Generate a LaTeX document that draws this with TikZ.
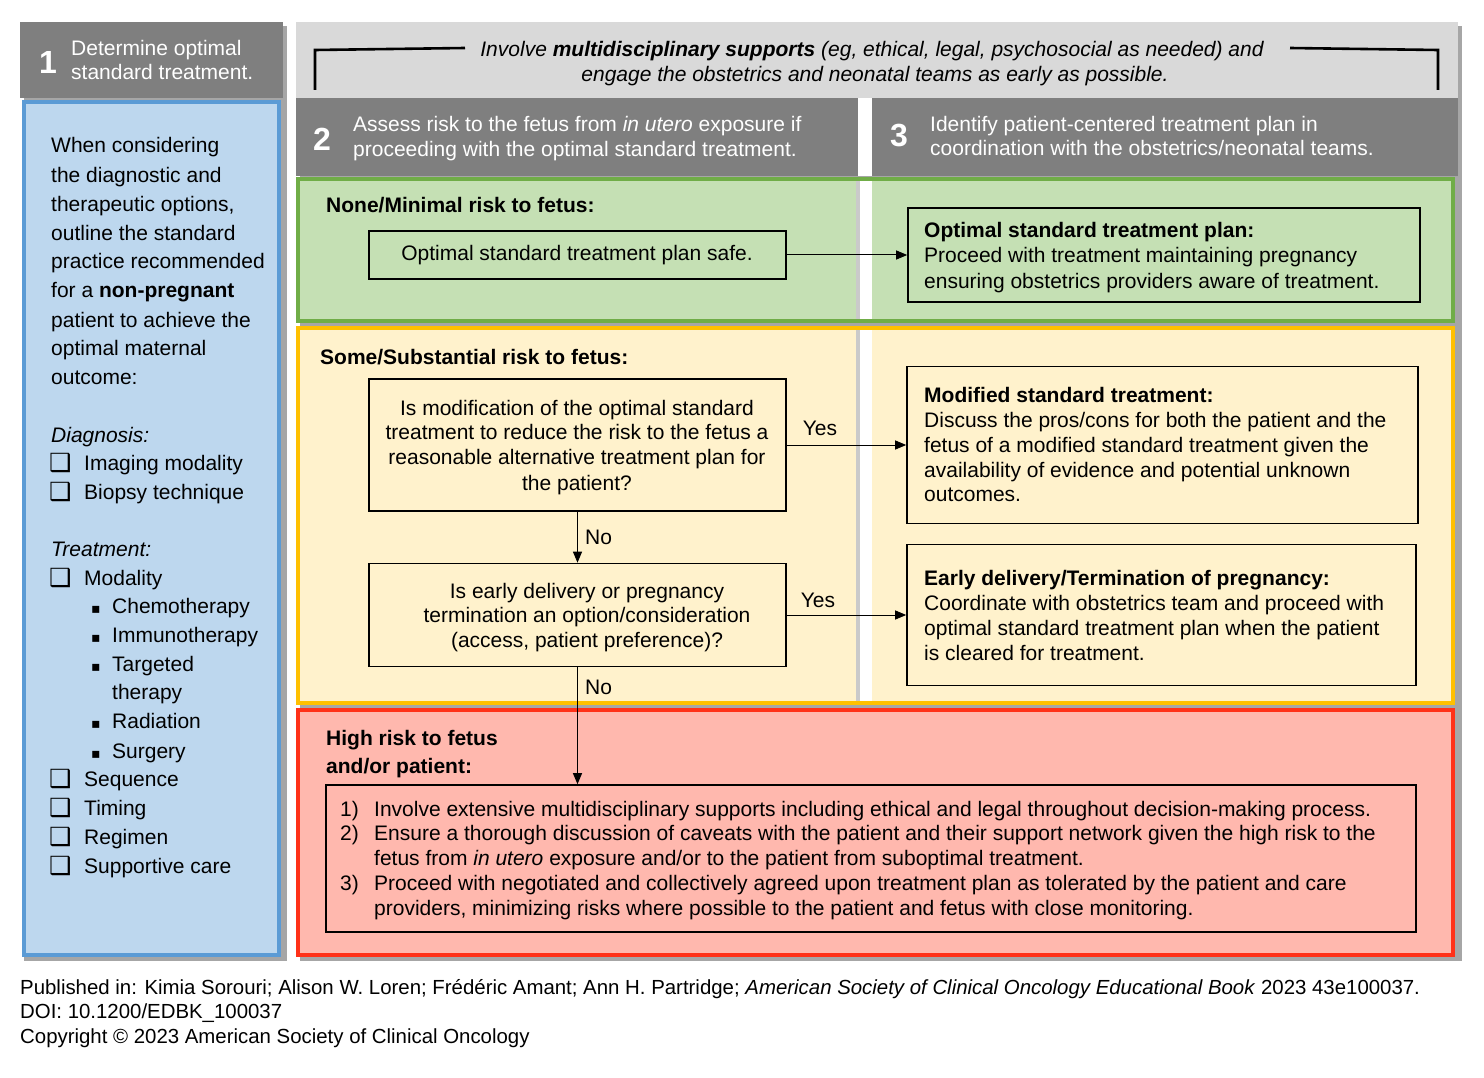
\documentclass[tikz,border=0pt]{standalone}
\usepackage{fontspec}
\setmainfont{Liberation Sans}
\newfontfamily\dejavu{DejaVu Sans}
\usetikzlibrary{arrows.meta}
\definecolor{hdrgray}{HTML}{7F7F7F}
\definecolor{topgray}{HTML}{D9D9D9}
\definecolor{bluefill}{HTML}{BDD7EE}
\definecolor{blueline}{HTML}{5B9BD5}
\definecolor{greenfill}{HTML}{C5E0B4}
\definecolor{greenline}{HTML}{70AD47}
\definecolor{yellowfill}{HTML}{FFF2CC}
\definecolor{yellowline}{HTML}{FFC000}
\definecolor{redfill}{HTML}{FFB8AE}
\definecolor{redline}{HTML}{FF3118}
\definecolor{shadowgray}{HTML}{A6A6A6}
\newcounter{tcnt}
\newcommand\txtL[3]{\stepcounter{tcnt}\node[anchor=base west,inner sep=0pt] (t\arabic{tcnt}) at (#1,#2) {#3};}
\newcommand\txtC[3]{\stepcounter{tcnt}\node[anchor=base,inner sep=0pt] (t\arabic{tcnt}) at (#1,#2) {#3};}
\newcommand\chk[3]{\stepcounter{tcnt}\node[anchor=base west,inner sep=0pt,font=\dejavu\fontsize{25}{25}\selectfont] (t\arabic{tcnt}) at (49,#2+1) {❑};\txtL{#3}{#2}{#1}}
\newcommand\bul[1]{\txtL{91}{#1}{\dejavu\fontsize{14}{14}\selectfont ▪}}
\begin{document}
\begin{tikzpicture}[x=1pt,y=-1pt,
  font=\fontsize{21}{25}\selectfont,
  boxnode/.style={draw=black,line width=1.6pt,rectangle,inner sep=0pt},
  arr/.style={-{Triangle[length=11pt,width=9pt]},line width=1pt},
  band/.style={line width=4.5pt},
  shad/.style={fill=shadowgray},
  lefttext/.style={font=\fontsize{21}{25}\selectfont},
  foottext/.style={font=\fontsize{20.4}{24}\selectfont}]
\useasboundingbox (0,0) rectangle (1484,1078);
\fill[white] (0,0) rectangle (1484,1078);
% shadows
\fill[shad] (24,26) rectangle (287,961);
\fill[shad] (300,26) rectangle (1462,961);
% left header and panel
\fill[hdrgray] (20,22) rectangle (283,98);
\filldraw[fill=bluefill,draw=blueline,line width=4.5pt] (24,102) rectangle (279,955);
% top band and headers
\fill[topgray] (296,22) rectangle (1458,98);
\fill[hdrgray] (296,98) rectangle (858,176);
\fill[hdrgray] (872,98) rectangle (1458,176);
\fill[white] (858,98) rectangle (872,176);
% green band
\fill[greenfill] (298,179) rectangle (1453,321);
\fill[shadowgray!60] (856,179) rectangle (860,321);
\fill[white] (860,179) rectangle (872,321);
\draw[band,draw=greenline] (298,179) rectangle (1453,321);
% yellow band
\fill[yellowfill] (298,328) rectangle (1453,703);
\fill[shadowgray!60] (856,328) rectangle (860,703);
\fill[white] (860,328) rectangle (872,703);
\draw[band,draw=yellowline] (298,328) rectangle (1453,703);
% red band
\filldraw[fill=redfill,draw=redline,band] (298,710) rectangle (1453,955);
% brackets
\coordinate (bl1) at (315,90); \coordinate (bl2) at (315,50); \coordinate (bl3) at (465,48);
\coordinate (br1) at (1290,48); \coordinate (br2) at (1438,50); \coordinate (br3) at (1438,90);
\draw[line width=2.6pt] (bl1) -- (bl2) -- (bl3);
\draw[line width=2.6pt] (br1) -- (br2) -- (br3);
% header texts
\txtC{872}{57}{\itshape Involve \textbf{multidisciplinary supports} (eg, ethical, legal, psychosocial as needed) and}
\txtC{875}{82}{\itshape engage the obstetrics and neonatal teams as early as possible.}
\node[anchor=base west,inner sep=0pt,text=white,font=\bfseries\fontsize{32}{32}\selectfont] (n1) at (39,74) {1};
\txtL{71}{56}{\color{white}Determine optimal}
\txtL{71}{80}{\color{white}standard treatment.}
\node[anchor=base west,inner sep=0pt,text=white,font=\bfseries\fontsize{32}{32}\selectfont] (n2) at (313,151) {2};
\txtL{353}{132}{\color{white}Assess risk to the fetus from \textit{in utero} exposure if}
\txtL{353}{157}{\color{white}proceeding with the optimal standard treatment.}
\node[anchor=base west,inner sep=0pt,text=white,font=\bfseries\fontsize{32}{32}\selectfont] (n3) at (890,147) {3};
\txtL{930}{132}{\color{white}Identify patient-centered treatment plan in}
\txtL{930}{156}{\color{white}coordination with the obstetrics/neonatal teams.}
% left panel text
\begin{scope}[lefttext]
\txtL{51}{153}{When considering}
\txtL{51}{183}{the diagnostic and}
\txtL{51}{212}{therapeutic options,}
\txtL{51}{241}{outline the standard}
\txtL{51}{269}{practice recommended}
\txtL{51}{298}{for a \textbf{non-pregnant}}
\txtL{51}{327}{patient to achieve the}
\txtL{51}{355}{optimal maternal}
\txtL{51}{384}{outcome:}
\txtL{51}{442}{\itshape Diagnosis:}
\chk{Imaging modality}{470}{84}
\chk{Biopsy technique}{499}{84}
\txtL{51}{556}{\itshape Treatment:}
\chk{Modality}{585}{84}
\bul{613}\txtL{112}{613}{Chemotherapy}
\bul{642}\txtL{112}{642}{Immunotherapy}
\bul{671}\txtL{112}{671}{Targeted}
\txtL{112}{699}{therapy}
\bul{728}\txtL{112}{728}{Radiation}
\bul{758}\txtL{112}{758}{Surgery}
\chk{Sequence}{786}{84}
\chk{Timing}{815}{84}
\chk{Regimen}{844}{84}
\chk{Supportive care}{873}{84}
\end{scope}
% green content
\txtL{326}{213}{\bfseries None/Minimal risk to fetus:}
\node[boxnode,minimum width=417pt,minimum height=48pt] (safe) at (577.5,255) {};
\txtC{577}{261}{Optimal standard treatment plan safe.}
\node[boxnode,minimum width=512pt,minimum height=94pt] (opt) at (1164,255) {};
\txtL{924}{238}{\bfseries Optimal standard treatment plan:}
\txtL{924}{263}{Proceed with treatment maintaining pregnancy}
\txtL{924}{288}{ensuring obstetrics providers aware of treatment.}
\draw[arr] (safe.east) -- (opt.west);
% yellow content
\txtL{320}{364}{\bfseries Some/Substantial risk to fetus:}
\node[boxnode,minimum width=417pt,minimum height=132pt] (q1) at (577.5,445) {};
\txtC{577}{415}{Is modification of the optimal standard}
\txtC{577}{439}{treatment to reduce the risk to the fetus a}
\txtC{577}{464}{reasonable alternative treatment plan for}
\txtC{577}{490}{the patient?}
\node[boxnode,minimum width=511pt,minimum height=157pt] (mod) at (1162.5,445) {};
\txtL{924}{402}{\bfseries Modified standard treatment:}
\txtL{924}{427}{Discuss the pros/cons for both the patient and the}
\txtL{924}{452}{fetus of a modified standard treatment given the}
\txtL{924}{477}{availability of evidence and potential unknown}
\txtL{924}{501}{outcomes.}
\node[boxnode,minimum width=417pt,minimum height=103pt] (q2) at (577.5,615) {};
\txtC{587}{598}{Is early delivery or pregnancy}
\txtC{587}{622}{termination an option/consideration}
\txtC{587}{647}{(access, patient preference)?}
\node[boxnode,minimum width=509pt,minimum height=141pt] (early) at (1161.5,615) {};
\txtL{924}{585}{\bfseries Early delivery/Termination of pregnancy:}
\txtL{924}{610}{Coordinate with obstetrics team and proceed with}
\txtL{924}{635}{optimal standard treatment plan when the patient}
\txtL{924}{660}{is cleared for treatment.}
% red content
\txtL{326}{745}{\bfseries High risk to fetus}
\txtL{326}{773}{\bfseries and/or patient:}
\node[boxnode,minimum width=1090pt,minimum height=147pt] (high) at (871,858.5) {};
\txtL{340}{816}{1)}\txtL{374}{816}{Involve extensive multidisciplinary supports including ethical and legal throughout decision-making process.}
\txtL{340}{840}{2)}\txtL{374}{840}{Ensure a thorough discussion of caveats with the patient and their support network given the high risk to the}
\txtL{374}{865}{fetus from \textit{in utero} exposure and/or to the patient from suboptimal treatment.}
\txtL{340}{890}{3)}\txtL{374}{890}{Proceed with negotiated and collectively agreed upon treatment plan as tolerated by the patient and care}
\txtL{374}{915}{providers, minimizing risks where possible to the patient and fetus with close monitoring.}
% connectors
\draw[arr] (q1.east) -- (q1.east -| mod.west);
\draw[arr] (q1.south) -- (q2.north);
\draw[arr] (q2.east) -- (q2.east -| early.west);
\draw[arr] (q2.south) -- (q2.south |- high.north);
\txtC{820}{435}{Yes}
\txtL{585}{544}{No}
\txtC{818}{607}{Yes}
\txtL{585}{694}{No}
% footer
\begin{scope}[foottext]
\txtL{20}{994}{Published in: Kimia Sorouri; Alison W. Loren; Frédéric Amant; Ann H. Partridge; \textit{American Society of Clinical Oncology Educational Book} 2023 43e100037.}
\txtL{20}{1018}{DOI: 10.1200/EDBK\_100037}
\txtL{20}{1043}{Copyright © 2023 American Society of Clinical Oncology}
\end{scope}
\end{tikzpicture}
\end{document}
